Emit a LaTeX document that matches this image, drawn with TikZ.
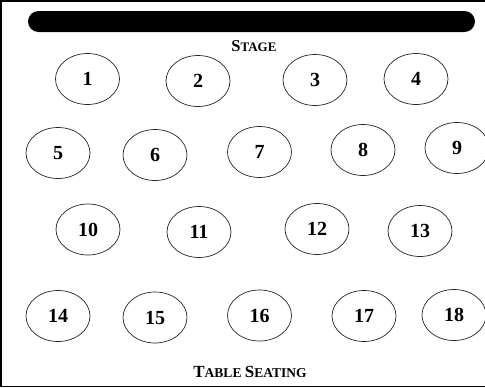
\documentclass[tikz,border=0pt]{standalone}
\usepackage{fontspec}
\setmainfont{Liberation Serif}
\usetikzlibrary{shapes.geometric}
\tikzset{
  tbl/.style={ellipse, draw=black!85, line width=0.7pt, minimum width=64pt, minimum height=51pt, inner sep=0pt, font=\fontsize{20}{20}\selectfont\bfseries},
  lbl/.style={inner sep=0pt, font=\bfseries}
}
\begin{document}
\begin{tikzpicture}[x=1pt,y=-1pt]
\useasboundingbox (0,0) rectangle (485,388);
% frame (open on the right)
\draw[line width=1.5pt] (486,1) -- (1,1) -- (1,386.5) -- (486,386.5);
% stage bar
\fill[black, rounded corners=10.5pt] (28,11) rectangle (475,32);
\node[lbl, anchor=base] (stage) at (254,51) {{\fontsize{16.5}{16}\selectfont S}{\fontsize{13}{13}\selectfont TAGE}};
\node[lbl, anchor=base] (title) at (250,377) {{\fontsize{17}{17}\selectfont T}{\fontsize{13.5}{13.5}\selectfont ABLE }{\fontsize{17}{17}\selectfont S}{\fontsize{13.5}{13.5}\selectfont EATING}};
% tables
\node[tbl] (t1) at (87.5,79) {1};
\node[tbl] (t2) at (198,81) {2};
\node[tbl] (t3) at (315,80) {3};
\node[tbl] (t4) at (416,79) {4};
\node[tbl] (t5) at (58,153) {5};
\node[tbl] (t6) at (155,155) {6};
\node[tbl] (t7) at (259.5,152) {7};
\node[tbl] (t8) at (363,150) {8};
\node[tbl] (t9) at (457,148) {9};
\node[tbl] (t10) at (88,229.5) {10};
\node[tbl] (t11) at (199,232) {11};
\node[tbl] (t12) at (317,229) {12};
\node[tbl] (t13) at (420,231) {13};
\node[tbl] (t14) at (58,316) {14};
\node[tbl] (t15) at (155,317.5) {15};
\node[tbl] (t16) at (259.5,315.5) {16};
\node[tbl] (t17) at (364,316) {17};
\node[tbl] (t18) at (454,315) {18};
\end{tikzpicture}
\end{document}
